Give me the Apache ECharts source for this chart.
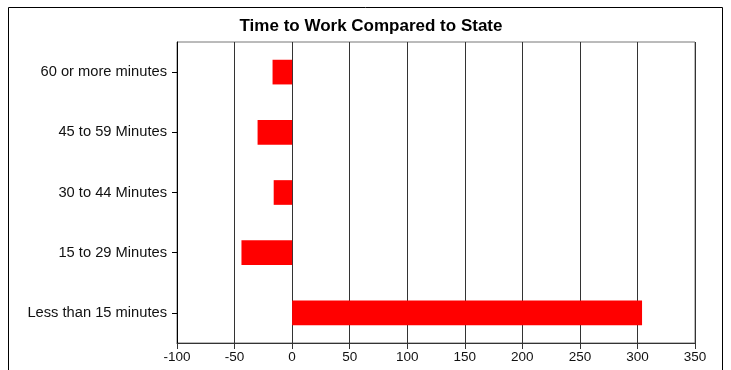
<!DOCTYPE html>
<html><head><meta charset="utf-8">
<script src="https://cdn.jsdelivr.net/npm/echarts@6/dist/echarts.min.js"></script>
<style>html,body{margin:0;padding:0;background:#fff}#c{width:731px;height:370px}</style>
</head><body><div id="c"></div>
<script>
const categories = ['Less than 15 minutes','15 to 29 Minutes','30 to 44 Minutes','45 to 59 Minutes','60 or more minutes'];
const values = [304, -44, -16, -30, -17];
const title = 'Time to Work Compared to State';

const chart = echarts.init(document.getElementById('c'), null, {renderer:'canvas'});
chart.setOption({
  animation:false,
  backgroundColor:'#fff',
  title:{text:title,left:366,top:13,textAlign:'center',
    textStyle:{fontFamily:'Liberation Sans, Arial',fontSize:17,fontWeight:'bold',color:'#000'}},
  graphic:[{type:'rect',shape:{x:8.5,y:7.5,width:714,height:400},style:{fill:'none',stroke:'#000',lineWidth:1},z:-1}],
  grid:{left:177,right:36,top:42,bottom:27,show:true,borderColor:'#777',borderWidth:1},
  xAxis:{type:'value',min:-100,max:350,interval:50,
    axisLine:{show:true,lineStyle:{color:'#333',width:1}},
    axisTick:{show:true,length:6,lineStyle:{color:'#333'}},
    axisLabel:{fontFamily:'Liberation Sans, Arial',fontSize:13.5,color:'#111',margin:7},
    splitLine:{show:true,lineStyle:{color:'#333',width:1}}},
  yAxis:{type:'category',data:categories,
    axisLine:{show:true,onZero:false,lineStyle:{color:'#000',width:1}},
    axisTick:{show:true,alignWithLabel:true,length:5,lineStyle:{color:'#000'}},
    axisLabel:{fontFamily:'Liberation Sans, Arial',fontSize:14.7,color:'#111',margin:10}},
  series:[{type:'bar',data:values,barWidth:'41%',itemStyle:{color:'#ff0000'}}]
});
</script></body></html>
